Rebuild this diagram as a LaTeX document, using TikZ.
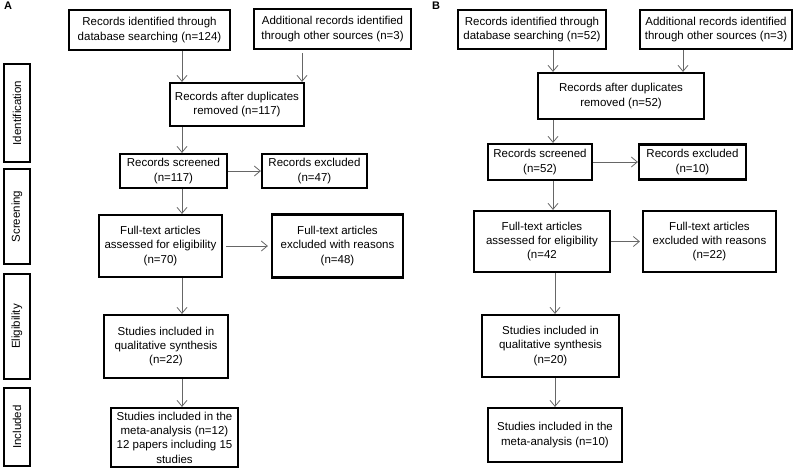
\documentclass[tikz,border=0pt]{standalone}
\usepackage{fontspec}
\setmainfont{Liberation Sans}
\usetikzlibrary{arrows.meta}

\begin{document}
\begin{tikzpicture}[x=1pt, y=-1pt,
  every node/.style={font=\fontsize{11.5}{14.3}\selectfont},
  box/.style={draw, line width=2.2pt, align=center, inner sep=0pt},
  phase/.style={box, rotate=90},
  panel/.style={font=\bfseries\fontsize{11}{12}\selectfont, inner sep=0pt},
  arr/.style={draw=black!60, line width=0.8pt, -{Straight Barb[length=6pt,width=10pt]}}]
\useasboundingbox (0,0) rectangle (798,472);

% panel A
\node[panel] (labA) at (8,6) {A};
\node[box, minimum width=161pt, minimum height=40pt] (idA) at (149.5,30) {Records identified through\\database searching (n=124)};
\node[box, minimum width=157pt, minimum height=40pt] (othA) at (332.5,29) {Additional records identified\\through other sources (n=3)};
\node[box, minimum width=134pt, minimum height=43pt] (dupA) at (237,104.5) {Records after duplicates\\removed (n=117)};
\node[box, minimum width=107pt, minimum height=34pt] (scrA) at (173.5,171) {Records screened\\(n=117)};
\node[box, minimum width=105pt, minimum height=34pt] (excA) at (314.5,171) {Records excluded\\(n=47)};
\node[box, minimum width=123pt, minimum height=62pt] (fullA) at (160.5,246) {Full-text articles\\assessed for eligibility\\(n=70)};
\node[box, minimum width=131pt, minimum height=63pt] (fexA) at (337.5,246) {Full-text articles\\excluded with reasons\\(n=48)};
\node[box, minimum width=124pt, minimum height=63pt] (qualA) at (166,346.5) {Studies included in\\qualitative synthesis\\(n=22)};
\node[box, minimum width=127pt, minimum height=59pt] (metaA) at (174.5,437.5) {Studies included in the\\meta-analysis (n=12)\\12 papers including 15\\studies};

\node[phase, minimum width=98pt, minimum height=26pt] (phId) at (17,113) {Identification};
\node[phase, minimum width=95pt, minimum height=26pt] (phScr) at (17,216.5) {Screening};
\node[phase, minimum width=105pt, minimum height=26pt] (phElig) at (17,326.5) {Eligibility};
\node[phase, minimum width=78pt, minimum height=26pt] (phIncl) at (17,427) {Included};

\coordinate (colA) at (182,0);
\coordinate (colAr) at (302,0);
\draw[arr] (idA.south -| colA) -- (dupA.north -| colA);
\draw[arr, shorten <=3pt] (othA.south -| colAr) -- (dupA.north -| colAr);
\draw[arr] (dupA.south -| colA) -- (scrA.north -| colA);
\draw[arr] (scrA.east) -- (excA.west);
\draw[arr] (scrA.south -| colA) -- (fullA.north -| colA);
\draw[arr, shorten <=3pt, shorten >=3pt] (fullA.east) -- (fexA.west);
\draw[arr] (fullA.south -| colA) -- (qualA.north -| colA);
\draw[arr] (qualA.south -| colA) -- (metaA.north -| colA);

% panel B
\node[panel] (labB) at (436,6) {B};
\node[box, minimum width=148pt, minimum height=39pt] (idB) at (532,29.5) {Records identified through\\database searching (n=52)};
\node[box, minimum width=152pt, minimum height=39pt] (othB) at (716,29.5) {Additional records identified\\through other sources (n=3)};
\node[box, minimum width=166pt, minimum height=46pt] (dupB) at (621,96) {Records after duplicates\\removed (n=52)};
\node[box, minimum width=104pt, minimum height=36pt] (scrB) at (540,162) {Records screened\\(n=52)};
\node[box, minimum width=107pt, minimum height=35pt] (excB) at (692.5,162) {Records excluded\\(n=10)};
\node[box, minimum width=136pt, minimum height=61pt] (fullB) at (542,241.5) {Full-text articles\\assessed for eligibility\\(n=42};
\node[box, minimum width=133pt, minimum height=61pt] (fexB) at (709.5,241.5) {Full-text articles\\excluded with reasons\\(n=22)};
\node[box, minimum width=137pt, minimum height=62pt] (qualB) at (550.5,346) {Studies included in\\qualitative synthesis\\(n=20)};
\node[box, minimum width=134pt, minimum height=54pt] (metaB) at (555,435) {Studies included in the\\meta-analysis (n=10)};

\coordinate (colB) at (553,0);
\coordinate (colBr) at (683,0);
\coordinate (colBl) at (555,0);
\draw[arr] (idB.south -| colB) -- (dupB.north -| colB);
\draw[arr] (othB.south -| colBr) -- (dupB.north -| colBr);
\draw[arr] (dupB.south -| colB) -- (scrB.north -| colB);
\draw[arr] (scrB.east) -- (excB.west);
\draw[arr] (scrB.south -| colB) -- (fullB.north -| colB);
\draw[arr, shorten >=2pt] (fullB.east) -- (fexB.west);
\draw[arr] (fullB.south -| colBl) -- (qualB.north -| colBl);
\draw[arr] (qualB.south -| colBl) -- (metaB.north -| colBl);

\end{tikzpicture}
\end{document}
